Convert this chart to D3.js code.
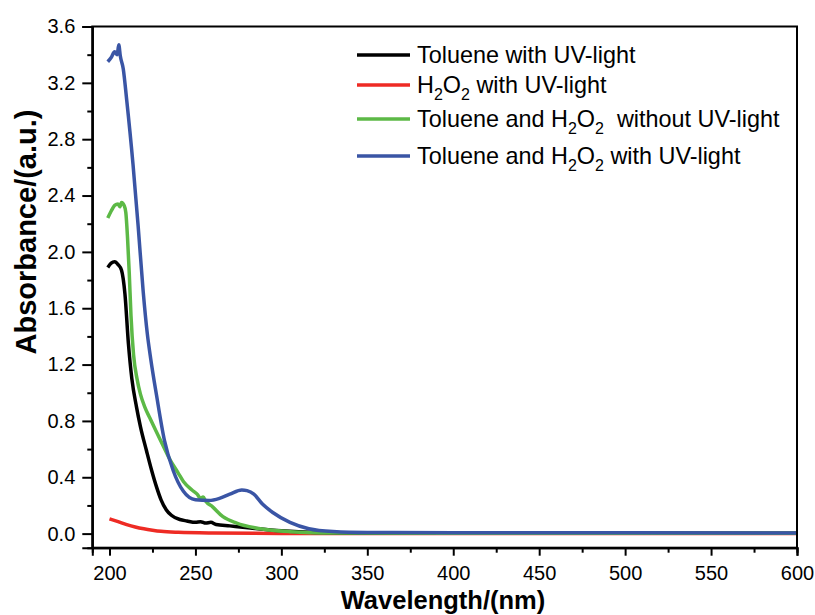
<!DOCTYPE html>
<html>
<head>
<meta charset="utf-8">
<script src="https://cdn.jsdelivr.net/npm/d3@7"></script>
<style>
  body { margin: 0; background: #fff; }
  text { font-family: "Liberation Sans", Arial, sans-serif; }
</style>
</head>
<body>
<div id="chart"></div>
<script>
// Wavelength (nm) / absorbance pairs
var tolueneUV = [[199,1.89],[201,1.92],[203,1.93],[205,1.91],[207,1.87],[209,1.70],[211,1.35],[213,1.1],[215.7,0.9],[218,0.76],[221.5,0.59],[224.5,0.45],[227.4,0.33],[230,0.24],[233,0.17],[236,0.13],[241,0.10],[245,0.09],[250,0.08],[253,0.085],[256,0.075],[259,0.08],[262,0.065],[270,0.055],[282,0.04],[300,0.02],[320,0.008],[350,0.003],[600,0.002]];
var h2o2UV = [[200,0.105],[205,0.085],[210,0.064],[215,0.047],[220,0.034],[225,0.024],[230,0.016],[240,0.009],[260,0.004],[300,0.001],[600,0.0]];
var tolueneH2o2Dark = [[199,2.24],[201,2.29],[203,2.33],[205,2.34],[206,2.32],[207,2.35],[208.5,2.33],[209.5,2.28],[210.5,2.1],[211.5,1.85],[212.5,1.55],[214,1.27],[216,1.1],[218,0.99],[220.5,0.9],[223.5,0.82],[227,0.73],[231,0.63],[235,0.53],[240,0.43],[243,0.37],[248,0.31],[251,0.28],[253,0.25],[254.5,0.26],[256,0.23],[260,0.19],[266,0.12],[274,0.075],[285,0.04],[305,0.014],[330,0.005],[400,0.003],[600,0.003]];
var tolueneH2o2UV = [[199,3.35],[201,3.38],[203,3.42],[204.5,3.40],[205.4,3.47],[206.3,3.39],[208,3.30],[210,3.08],[213.7,2.62],[216.7,2.18],[219.6,1.72],[222,1.42],[224,1.24],[227.4,0.98],[232,0.66],[237,0.45],[243,0.30],[250,0.24],[258,0.235],[264,0.25],[270,0.28],[277,0.31],[280,0.305],[284,0.28],[289,0.21],[295,0.15],[305,0.08],[316,0.035],[330,0.015],[350,0.008],[400,0.006],[600,0.005]];

var xTicks = [200,250,300,350,400,450,500,550,600];
var xMinorTicks = [225,275,325,375,425,475,525,575];
var yTicks = [0,0.4,0.8,1.2,1.6,2.0,2.4,2.8,3.2,3.6];
var yMinorTicks = [0.2,0.6,1.0,1.4,1.8,2.2,2.6,3.0,3.4];

var seriesNames = ["Toluene with UV-light", "H2O2 with UV-light", "Toluene and H2O2  without UV-light", "Toluene and H2O2 with UV-light"];
var seriesColors = ["#000000", "#ee2b24", "#5cb946", "#3a55a5"];
var seriesData = [tolueneUV, h2o2UV, tolueneH2o2Dark, tolueneH2o2UV];

var svg = d3.select("#chart")
    .append("svg")
    .attr("width", 815)
    .attr("height", 615);

var x = d3.scaleLinear().domain([190, 600]).range([92.3, 797]);
var y = d3.scaleLinear().domain([-0.1, 3.6]).range([547.7, 26.5]);

// curves first, red at the bottom of the pile
var line = d3.line()
    .x(function(d) { return x(d[0]); })
    .y(function(d) { return y(d[1]); })
    .curve(d3.curveMonotoneX);

[1, 0, 2, 3].forEach(function(i) {
    svg.append("path")
        .attr("d", line(seriesData[i]))
        .attr("fill", "none")
        .attr("stroke", seriesColors[i])
        .attr("stroke-width", 3.5)
        .attr("stroke-linejoin", "round");
});

// frame
svg.append("rect")
    .attr("x", x.range()[0]).attr("y", y.range()[1])
    .attr("width", x.range()[1] - x.range()[0])
    .attr("height", y.range()[0] - y.range()[1])
    .attr("fill", "none").attr("stroke", "#000").attr("stroke-width", 2);

// axes
svg.append("g").attr("transform", "translate(0," + y.range()[0] + ")")
    .call(d3.axisBottom(x).tickValues(xTicks).tickSize(8).tickPadding(10).tickFormat(d3.format("d")));
svg.append("g").attr("transform", "translate(0," + y.range()[0] + ")")
    .call(d3.axisBottom(x).tickValues(xMinorTicks).tickSize(5).tickFormat(""));
svg.append("g").attr("transform", "translate(" + x.range()[0] + ",0)")
    .call(d3.axisLeft(y).tickValues(yTicks).tickSize(10).tickPadding(7).tickFormat(d3.format(".1f")));
svg.append("g").attr("transform", "translate(" + x.range()[0] + ",0)")
    .call(d3.axisLeft(y).tickValues(yMinorTicks).tickSize(5).tickFormat(""));

svg.selectAll(".domain").attr("stroke-width", 2);
svg.selectAll(".tick line").attr("stroke-width", 2);
svg.selectAll(".tick text")
    .style("font-family", '"Liberation Sans", Arial, sans-serif')
    .style("font-size", "20px")
    .attr("fill", "#000");

// axis titles
svg.append("text")
    .attr("x", 443).attr("y", 609)
    .attr("text-anchor", "middle")
    .style("font-size", "25.5px").style("font-weight", "bold")
    .text("Wavelength/(nm)");

svg.append("text")
    .attr("transform", "translate(36,232) rotate(-90)")
    .attr("text-anchor", "middle")
    .style("font-size", "29px").style("font-weight", "bold")
    .text("Absorbance/(a.u.)");

// legend
var legendRows = [55, 85, 119, 156];
var legend = svg.append("g");
seriesNames.forEach(function(name, i) {
    legend.append("line")
        .attr("x1", 357).attr("x2", 410)
        .attr("y1", legendRows[i]).attr("y2", legendRows[i])
        .attr("stroke", seriesColors[i]).attr("stroke-width", 3.5);
    var t = legend.append("text")
        .attr("x", 417).attr("y", legendRows[i] + 8)
        .attr("xml:space", "preserve")
        .style("white-space", "pre")
        .style("font-size", "23.4px");
    // split on H2O2 so the 2s can be lowered
    var parts = name.split("H2O2");
    t.append("tspan").text(parts[0]);
    if (parts.length > 1) {
        t.append("tspan").text("H");
        t.append("tspan").attr("dy", 7).style("font-size", "16px").text("2");
        t.append("tspan").attr("dy", -7).text("O");
        t.append("tspan").attr("dy", 7).style("font-size", "16px").text("2");
        t.append("tspan").attr("dy", -7).text(parts[1]);
    }
});
</script>
</body>
</html>
